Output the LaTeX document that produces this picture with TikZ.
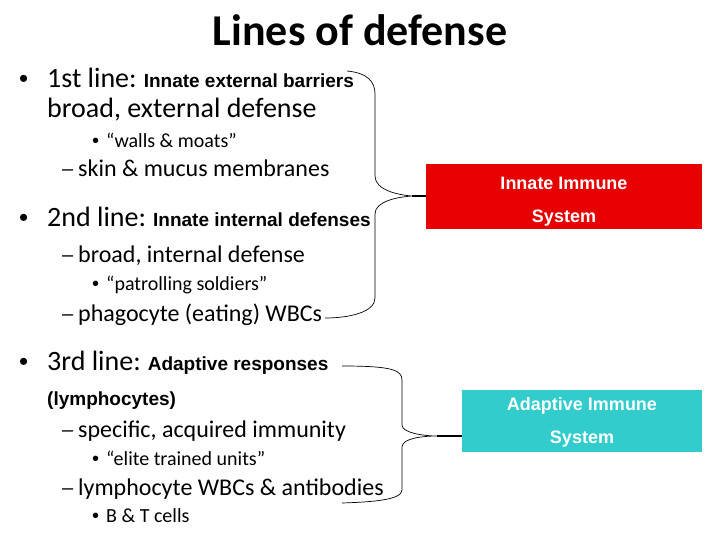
\documentclass[tikz,border=0pt]{standalone}
\usepackage{fontspec}
\setmainfont{Carlito}
\newfontfamily\arialfont{Liberation Sans}
\usetikzlibrary{positioning}
\definecolor{innred}{RGB}{230,0,0}
\definecolor{adpteal}{RGB}{51,204,204}
\newcommand{\inl}[1]{{\arialfont\bfseries\fontsize{19}{19}\selectfont #1}}

\begin{document}
\begin{tikzpicture}[
  x=1pt, y=-1pt,
  every node/.style={inner sep=0pt, anchor=base west},
  ttl/.style   ={font=\bfseries\fontsize{44}{44}\selectfont, anchor=base},
  lvone/.style ={font=\fontsize{28}{28}\selectfont},
  lvtwo/.style ={font=\fontsize{24}{24}\selectfont},
  lvthree/.style={font=\fontsize{20}{20}\selectfont},
  bulA/.style  ={font=\arialfont\fontsize{26}{26}\selectfont},
  bulB/.style  ={font=\arialfont\fontsize{20}{20}\selectfont},
  bulC/.style  ={font=\arialfont\fontsize{20}{20}\selectfont},
  sysbox/.style={anchor=center, align=center, text=white,
                 font=\arialfont\bfseries\fontsize{18}{33}\selectfont},
  brc/.style   ={line width=0.7pt},
  lnk/.style   ={line width=1.4pt}]
\useasboundingbox (0,0) rectangle (720,540);

\node[ttl] (title) at (360,46) {Lines of defense};

% first line of defense
\node[bulA]    (d1)  at (19,88)  {•};
\node[lvone]   (l1)  at (47,88)  {1st line:\inl{ Innate external barriers}};
\node[lvone]   (l1a) at (47,118) {broad, external defense};
\node[bulC]    (d1b) at (92,148) {•};
\node[lvthree] (l1b) at (106,148) {“walls \& moats”};
\node[bulB]    (d1c) at (62,176) {–};
\node[lvtwo]   (l1c) at (78,177) {skin \& mucus membranes};

% second line of defense
\node[bulA]    (d2)  at (19,226) {•};
\node[lvone]   (l2)  at (47,226) {2nd line:\inl{ Innate internal defenses}};
\node[bulB]    (d2a) at (62,261) {–};
\node[lvtwo]   (l2a) at (78,262) {broad, internal defense};
\node[bulC]    (d2b) at (92,290) {•};
\node[lvthree] (l2b) at (106,290) {“patrolling soldiers”};
\node[bulB]    (d2c) at (62,320) {–};
\node[lvtwo]   (l2c) at (78,321) {phagocyte (eating) WBCs};

% third line of defense
\node[bulA]    (d3)  at (19,370) {•};
\node[lvone]   (l3)  at (47,370) {3rd line:\inl{ Adaptive responses}};
\node          (l3a) at (47,405) {\inl{(lymphocytes)}};
\node[bulB]    (d3b) at (62,436) {–};
\node[lvtwo]   (l3b) at (78,437) {specific, acquired immunity};
\node[bulC]    (d3c) at (92,465) {•};
\node[lvthree] (l3c) at (106,465) {“elite trained units”};
\node[bulB]    (d3d) at (62,494) {–};
\node[lvtwo]   (l3d) at (78,495) {lymphocyte WBCs \& antibodies};
\node[bulC]    (d3e) at (92,522) {•};
\node[lvthree] (l3e) at (106,522) {B \& T cells};

% the two systems
\node[sysbox, fill=innred, minimum width=276pt, minimum height=65pt]
     (inn) at (564,196.5) {\rule{0pt}{22pt}Innate Immune\\System};
\node[sysbox, fill=adpteal, minimum width=240pt, minimum height=62pt]
     (adp) at (582,421) {\rule{0pt}{15pt}Adaptive Immune\\System};

% ---------------------------- braces --------------------------------
\coordinate (innTop) at (347,71);
\coordinate (innTip) at (412,196);
\coordinate (innEnd) at (325,318);
\draw[brc] (innTop) .. controls (368,73) and (375,82) .. (375,94)
  -- (375,176) .. controls (375,190) and (398,195) .. (innTip)
  .. controls (398,197) and (375,201) .. (375,214)
  -- (375,298) .. controls (375,312) and (350,318) .. (innEnd);
\draw[lnk] (innTip) -- (inn.west |- innTip);

\coordinate (adpTop) at (342,366);
\coordinate (adpTip) at (437,436);
\coordinate (adpEnd) at (342,503);
\draw[brc] (adpTop) .. controls (392,366) and (402,370) .. (402,380)
  -- (402,425) .. controls (402,433) and (424,436) .. (adpTip)
  .. controls (424,436) and (402,438) .. (402,447)
  -- (402,490) .. controls (402,500) and (372,502) .. (adpEnd);
\draw[lnk] (adpTip) -- (adp.west |- adpTip);

\end{tikzpicture}
\end{document}
